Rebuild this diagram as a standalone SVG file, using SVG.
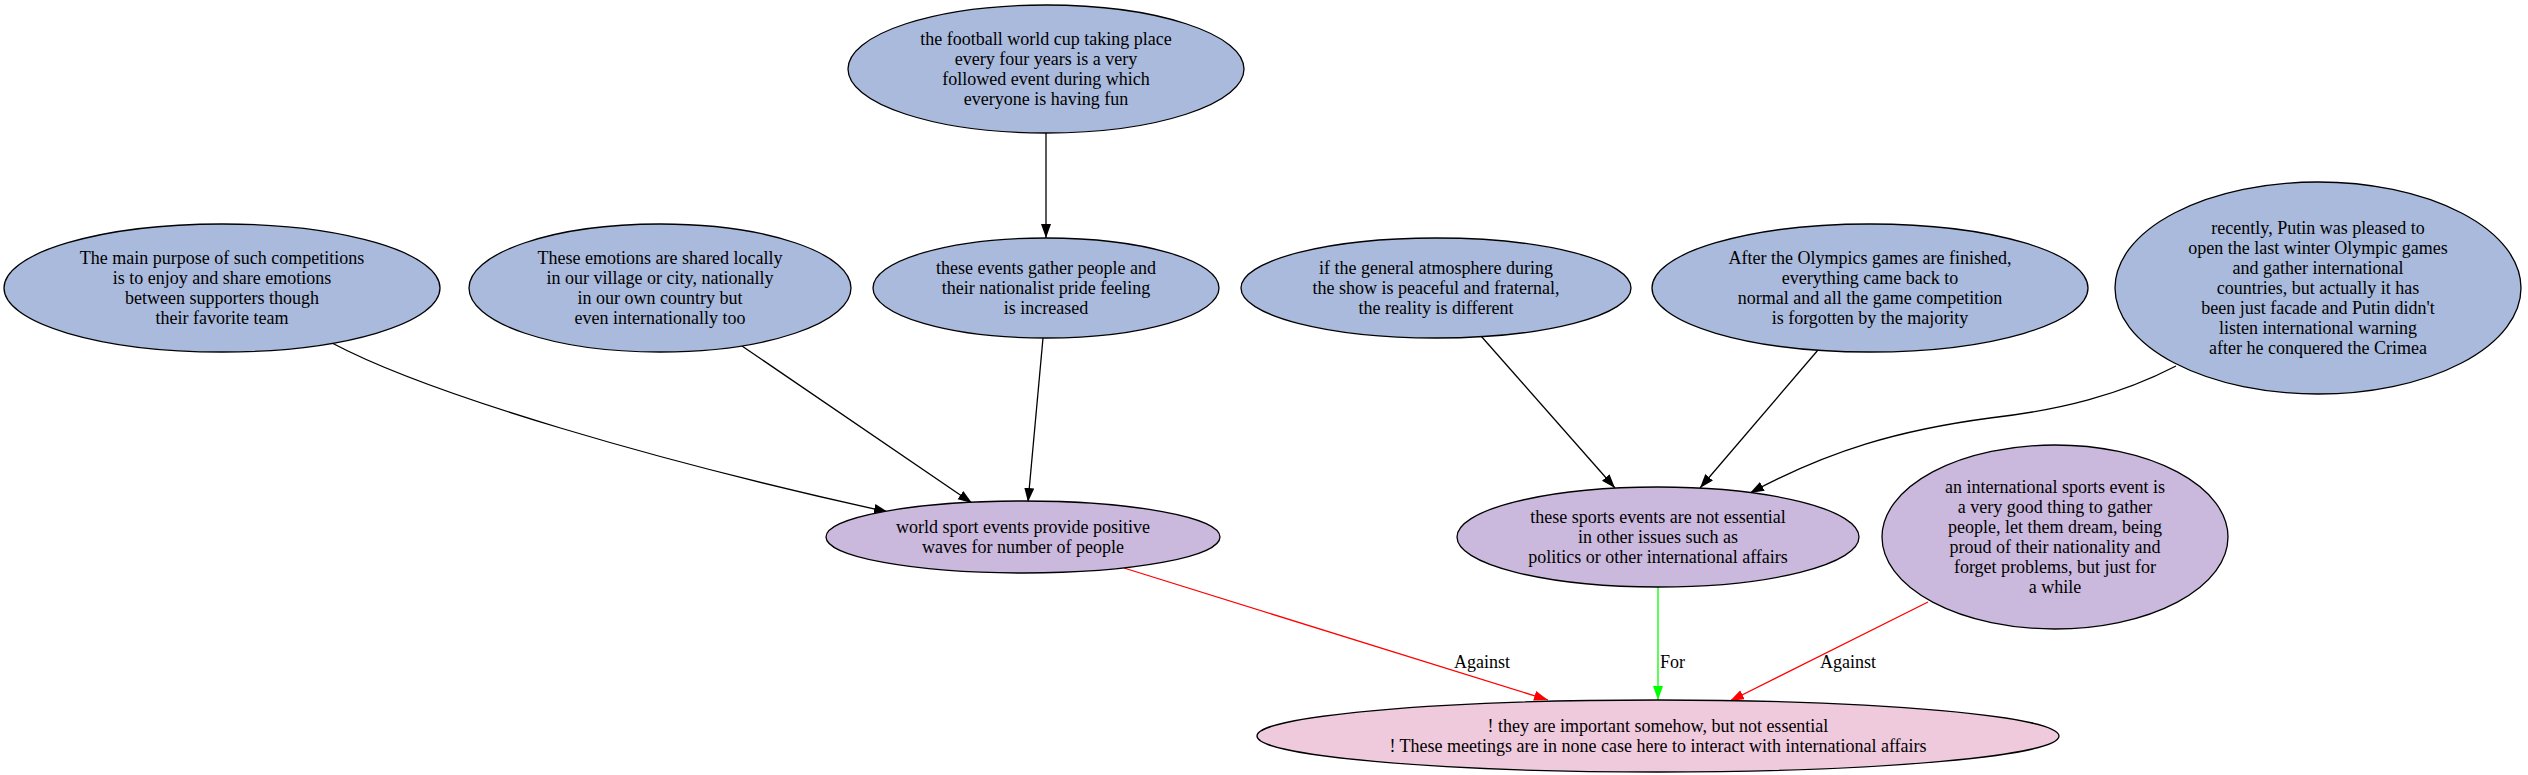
<svg xmlns="http://www.w3.org/2000/svg" width="2528" height="775" viewBox="0 0 2528 775">
<style>
text{font-family:"Liberation Serif","Times New Roman",serif;font-size:18px;fill:#000;text-anchor:middle}
.n ellipse{stroke:#000;stroke-width:1.3}
.b ellipse{fill:#aabadc}
.p ellipse{fill:#cab9dc}
.k ellipse{fill:#efcadd}
.e{fill:none;stroke-width:1.3}
.lbl{text-anchor:start}
</style>
<defs>
<marker id="ak" markerUnits="userSpaceOnUse" markerWidth="15" markerHeight="11" refX="14" refY="5" orient="auto"><path d="M0,0 L14,5 L0,10 z" fill="#000"/></marker>
<marker id="ar" markerUnits="userSpaceOnUse" markerWidth="15" markerHeight="11" refX="14" refY="5" orient="auto"><path d="M0,0 L14,5 L0,10 z" fill="#f00"/></marker>
<marker id="ag" markerUnits="userSpaceOnUse" markerWidth="15" markerHeight="11" refX="14" refY="5" orient="auto"><path d="M0,0 L14,5 L0,10 z" fill="#0f0"/></marker>
</defs>
<rect width="2528" height="775" fill="#fff"/>
<g id="connectors">
<path class="e" stroke="#000" marker-end="url(#ak)" d="M1046,133 L1046,238"/>
<path class="e" stroke="#000" marker-end="url(#ak)" d="M332,343 C430,395 660,462 888,512"/>
<path class="e" stroke="#000" marker-end="url(#ak)" d="M742,346 L972,503"/>
<path class="e" stroke="#000" marker-end="url(#ak)" d="M1043,338 L1028,502"/>
<path class="e" stroke="#000" marker-end="url(#ak)" d="M1481,336 L1615,488"/>
<path class="e" stroke="#000" marker-end="url(#ak)" d="M1818,350 L1700,488"/>
<path class="e" stroke="#000" marker-end="url(#ak)" d="M2176,366 C2120,395 2060,410 1990,418 C1900,430 1830,450 1750,493"/>
<path class="e" stroke="#f00" marker-end="url(#ar)" d="M1124,568 L1548,700"/>
<path class="e" stroke="#0f0" marker-end="url(#ag)" d="M1658,587 L1658,700"/>
<path class="e" stroke="#f00" marker-end="url(#ar)" d="M1928,602 L1730,701"/>
<text x="1482" y="668">Against</text>
<text class="lbl" x="1660" y="668">For</text>
<text x="1848" y="668">Against</text>
</g>
<g id="n1" class="n b">
<ellipse cx="1046" cy="69" rx="198" ry="64"/>
<text x="1046" y="44.5">the football world cup taking place</text>
<text x="1046" y="64.5">every four years is a very</text>
<text x="1046" y="84.5">followed event during which</text>
<text x="1046" y="104.5">everyone is having fun</text>
</g>
<g id="a" class="n b">
<ellipse cx="222" cy="288" rx="218" ry="64"/>
<text x="222" y="263.5">The main purpose of such competitions</text>
<text x="222" y="283.5">is to enjoy and share emotions</text>
<text x="222" y="303.5">between supporters though</text>
<text x="222" y="323.5">their favorite team</text>
</g>
<g id="b" class="n b">
<ellipse cx="660" cy="288" rx="191" ry="64"/>
<text x="660" y="263.5">These emotions are shared locally</text>
<text x="660" y="283.5">in our village or city, nationally</text>
<text x="660" y="303.5">in our own country but</text>
<text x="660" y="323.5">even internationally too</text>
</g>
<g id="c" class="n b">
<ellipse cx="1046" cy="288" rx="173" ry="50"/>
<text x="1046" y="273.5">these events gather people and</text>
<text x="1046" y="293.5">their nationalist pride feeling</text>
<text x="1046" y="313.5">is increased</text>
</g>
<g id="d" class="n b">
<ellipse cx="1436" cy="288" rx="195" ry="50"/>
<text x="1436" y="273.5">if the general atmosphere during</text>
<text x="1436" y="293.5">the show is peaceful and fraternal,</text>
<text x="1436" y="313.5">the reality is different</text>
</g>
<g id="e" class="n b">
<ellipse cx="1870" cy="288" rx="218" ry="64"/>
<text x="1870" y="263.5">After the Olympics games are finished,</text>
<text x="1870" y="283.5">everything came back to</text>
<text x="1870" y="303.5">normal and all the game competition</text>
<text x="1870" y="323.5">is forgotten by the majority</text>
</g>
<g id="f" class="n b">
<ellipse cx="2318" cy="288" rx="203" ry="106"/>
<text x="2318" y="233.5">recently, Putin was pleased to</text>
<text x="2318" y="253.5">open the last winter Olympic games</text>
<text x="2318" y="273.5">and gather international</text>
<text x="2318" y="293.5">countries, but actually it has</text>
<text x="2318" y="313.5">been just facade and Putin didn't</text>
<text x="2318" y="333.5">listen international warning</text>
<text x="2318" y="353.5">after he conquered the Crimea</text>
</g>
<g id="g" class="n p">
<ellipse cx="1023" cy="537" rx="197" ry="36"/>
<text x="1023" y="532.5">world sport events provide positive</text>
<text x="1023" y="552.5">waves for number of people</text>
</g>
<g id="h" class="n p">
<ellipse cx="1658" cy="537" rx="201" ry="50"/>
<text x="1658" y="522.5">these sports events are not essential</text>
<text x="1658" y="542.5">in other issues such as</text>
<text x="1658" y="562.5">politics or other international affairs</text>
</g>
<g id="i" class="n p">
<ellipse cx="2055" cy="537" rx="173" ry="92"/>
<text x="2055" y="492.5">an international sports event is</text>
<text x="2055" y="512.5">a very good thing to gather</text>
<text x="2055" y="532.5">people, let them dream, being</text>
<text x="2055" y="552.5">proud of their nationality and</text>
<text x="2055" y="572.5">forget problems, but just for</text>
<text x="2055" y="592.5">a while</text>
</g>
<g id="j" class="n k">
<ellipse cx="1658" cy="736" rx="401" ry="36"/>
<text x="1658" y="731.5">! they are important somehow, but not essential</text>
<text x="1658" y="751.5">! These meetings are in none case here to interact with international affairs</text>
</g>
</svg>
